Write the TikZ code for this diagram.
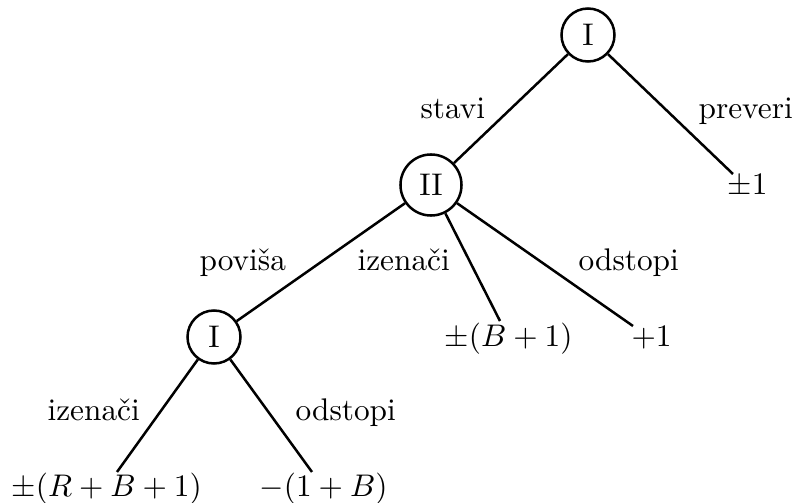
\documentclass[tikz,border=0pt]{standalone}
\usepackage{fontspec}
\begin{document}
\begin{tikzpicture}[x=0.3195pt,y=-0.3195pt,
  player/.style={draw,circle,line width=0.8pt,inner sep=0.3333em},
  edge/.style={line width=0.8pt},
  lbl/.style={anchor=base west,inner sep=0pt}]
\useasboundingbox (0,0) rectangle (795,503);
% players
\node[player] (r) at (588,35) {I};
\node[player] (b) at (431,185) {II};
\node[player] (a) at (214,337) {I};
% leaf ends
\coordinate (lr) at (733,174);
\coordinate (lb1) at (500,321);
\coordinate (lb2) at (633,326);
\coordinate (la1) at (117,472);
\coordinate (la2) at (312,472);
% edges
\draw[edge] (r) -- (b);
\draw[edge] (r) -- (lr);
\draw[edge] (b) -- (a);
\draw[edge] (b) -- (lb1);
\draw[edge] (b) -- (lb2);
\draw[edge] (a) -- (la1);
\draw[edge] (a) -- (la2);
% payoffs
\node[lbl] (pr) at (727,195) {$\pm1$};
\node[lbl] (pb1) at (444,347) {$\pm(B+1)$};
\node[lbl] (pb2) at (631,347) {$+1$};
\node[lbl] (pa1) at (11,497) {$\pm(R+B+1)$};
\node[lbl] (pa2) at (259,497) {$-(1+B)$};
% action labels
\node[lbl] (t1) at (420,119) {stavi};
\node[lbl] (t2) at (698,119) {preveri};
\node[lbl] (t3) at (199,270) {poviša};
\node[lbl] (t4) at (357,270) {izenači};
\node[lbl] (t5) at (578,270) {odstopi};
\node[lbl] (t6) at (47,421) {izenači};
\node[lbl] (t7) at (295,421) {odstopi};
\end{tikzpicture}
\end{document}
